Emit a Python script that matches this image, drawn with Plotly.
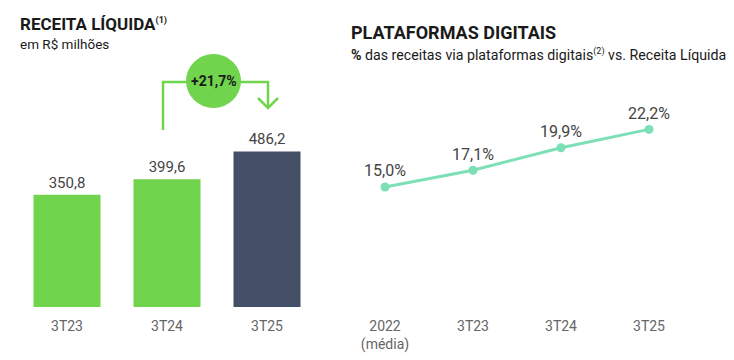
import plotly.graph_objects as go

# Data
bar_categories = ["3T23", "3T24", "3T25"]
bar_values = [350.8, 399.6, 486.2]
bar_labels = ["350,8", "399,6", "486,2"]

line_categories = ["2022<br>(média)", "3T23", "3T24", "3T25"]
line_values = [15.0, 17.1, 19.9, 22.2]
line_labels = ["15,0%", "17,1%", "19,9%", "22,2%"]

growth_label = "+21,7%"

W, H = 734, 360
GREEN = "#70d44c"
NAVY = "#435068"
MINT = "#7ddfb6"
FONT = "Roboto"

def px(x):
    return x / W

def py(y):
    return (H - y) / H

fig = go.Figure()

fig.add_trace(go.Bar(
    x=bar_categories, y=bar_values,
    marker=dict(color=[GREEN, GREEN, NAVY], line=dict(width=0)),
    width=0.67,
    text=bar_labels, textposition="outside",
    textfont=dict(family=FONT, size=15, color="#444444"),
    cliponaxis=False,
    xaxis="x", yaxis="y",
    hoverinfo="skip",
))

fig.add_trace(go.Scatter(
    x=line_categories, y=line_values,
    mode="lines+markers+text",
    line=dict(color=MINT, width=3),
    marker=dict(color=MINT, size=9),
    text=line_labels, textposition="top center",
    textfont=dict(family=FONT, size=16, color="#444444"),
    cliponaxis=False,
    xaxis="x2", yaxis="y2",
    hoverinfo="skip",
))

axis_common = dict(showgrid=False, zeroline=False, showline=False, ticks="",
                   ticklabelstandoff=9,
                   tickfont=dict(family=FONT, size=14, color="#666666"))

fig.update_layout(
    width=W, height=H,
    margin=dict(l=0, r=0, t=0, b=0),
    paper_bgcolor="white", plot_bgcolor="white",
    showlegend=False,
    xaxis=dict(domain=[px(17), px(317)], type="category", range=[-0.5, 2.5],
               anchor="y", **axis_common),
    yaxis=dict(domain=[py(307), py(100)], range=[0, 207 / 0.32],
               showticklabels=False, anchor="x", showgrid=False,
               zeroline=False, showline=False),
    xaxis2=dict(domain=[px(341), px(693)], type="category", range=[-0.5, 3.5],
                anchor="y2", **axis_common),
    yaxis2=dict(domain=[py(307), py(100)], range=[0, 207 / 8.0],
                showticklabels=False, anchor="x2", showgrid=False,
                zeroline=False, showline=False),
)

# Titles
fig.add_annotation(x=px(18), y=py(24), xref="paper", yref="paper",
                   xanchor="left", yanchor="middle", showarrow=False,
                   text="<b>RECEITA LÍQUIDA</b><sup><b><span style='font-size:9px'>(1)</span></b></sup>",
                   font=dict(family=FONT, size=17, color="#1a1a1a"))
fig.add_annotation(x=px(18), y=py(44), xref="paper", yref="paper",
                   xanchor="left", yanchor="middle", showarrow=False,
                   text="em R$ milhões",
                   font=dict(family=FONT, size=13.5, color="#1a1a1a"))
fig.add_annotation(x=px(349), y=py(32), xref="paper", yref="paper",
                   xanchor="left", yanchor="middle", showarrow=False,
                   text="<b>PLATAFORMAS DIGITAIS</b>",
                   font=dict(family=FONT, size=18, color="#1a1a1a"))
fig.add_annotation(x=px(349), y=py(54), xref="paper", yref="paper",
                   xanchor="left", yanchor="middle", showarrow=False,
                   text="<b>%</b> das receitas via plataformas digitais<sup><span style='font-size:9px'>(2)</span></sup> vs. Receita Líquida",
                   font=dict(family=FONT, size=14.2, color="#1a1a1a"))

# Growth bracket arrow
bracket = (f"M {px(163)},{py(130)} L {px(163)},{py(82)} L {px(268)},{py(82)} "
           f"L {px(268)},{py(108)}")
fig.add_shape(type="path", path=bracket, xref="paper", yref="paper",
              line=dict(color=GREEN, width=2.5))
head = f"M {px(258)},{py(98)} L {px(268)},{py(108)} L {px(278)},{py(98)}"
fig.add_shape(type="path", path=head, xref="paper", yref="paper",
              line=dict(color=GREEN, width=2.5))
fig.add_shape(type="circle", xref="paper", yref="paper",
              x0=px(186), x1=px(241), y0=py(108), y1=py(54),
              fillcolor=GREEN, line=dict(width=0))
fig.add_annotation(x=px(213.5), y=py(81), xref="paper", yref="paper",
                   xanchor="center", yanchor="middle",
                   showarrow=False, text=f"<b>{growth_label}</b>",
                   font=dict(family=FONT, size=14, color="#1a1a1a"))

fig.write_html("out.html",
               config={"displayModeBar": False, "staticPlot": True},
               post_script="document.body.style.margin='0';document.body.style.overflow='hidden';")
